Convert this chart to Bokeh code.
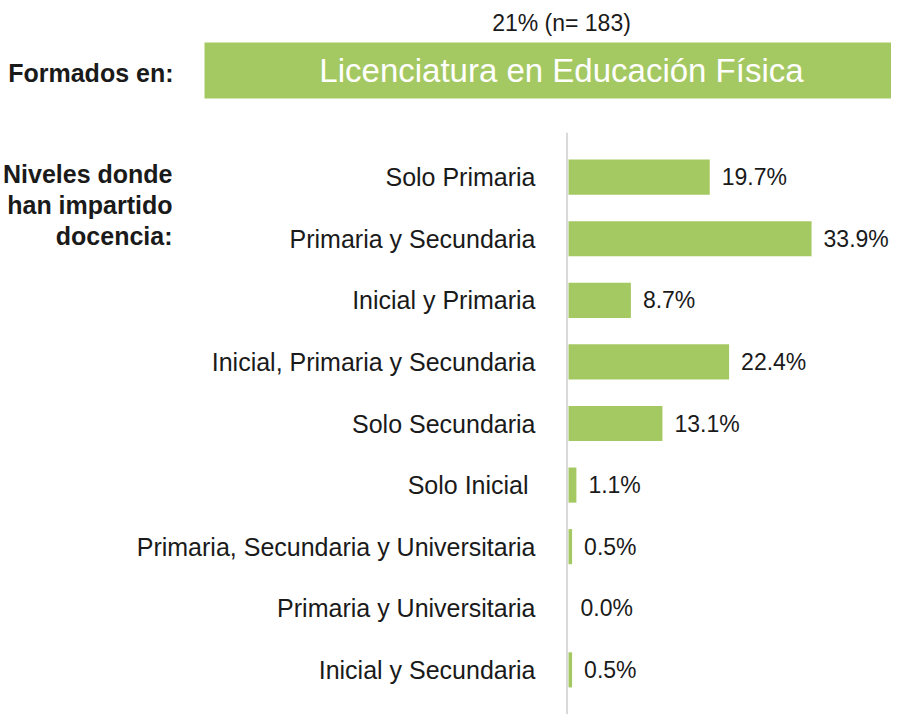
from bokeh.plotting import figure
from bokeh.models import ColumnDataSource, Range1d, FactorRange, Span
from bokeh.layouts import column
from bokeh.embed import file_html
from bokeh.resources import INLINE
from bokeh.core.properties import value

# ---- data ----
categories = [
    "Solo Primaria",
    "Primaria y Secundaria",
    "Inicial y Primaria",
    "Inicial, Primaria y Secundaria",
    "Solo Secundaria",
    "Solo Inicial ",
    "Primaria, Secundaria y Universitaria",
    "Primaria y Universitaria",
    "Inicial y Secundaria",
]
percentages = [19.7, 33.9, 8.7, 22.4, 13.1, 1.1, 0.5, 0.0, 0.5]
value_labels = ["19.7%", "33.9%", "8.7%", "22.4%", "13.1%", "1.1%", "0.5%", "0.0%", "0.5%"]

group_name = "Licenciatura en Educación Física"
group_share = "21% (n= 183)"
formed_label = "Formados en:"
levels_label = ["Niveles donde", "han impartido", "docencia:"]

# ---- style ----
GREEN = "#A5C962"
FONT = value("Liberation Sans")
TEXT = "#1a1a1a"
W = 891
HEAD_H = 132
MAIN_H = 582

# ---- header figure (pixel-like layout coordinates) ----
hdr = figure(width=W, height=HEAD_H, x_range=Range1d(0, W), y_range=Range1d(HEAD_H, 0),
             output_backend="svg", toolbar_location=None,
             x_axis_location=None, y_axis_location=None, min_border=0)
hdr.grid.visible = False
hdr.outline_line_color = None
hdr.quad(left=[204], right=[W], top=[42], bottom=[98], fill_color=GREEN, line_color=None)
hdr.text(x=[561], y=[22], text=[group_share], text_font=FONT, text_font_size="23px",
         text_color=TEXT, text_align="center", text_baseline="middle")
hdr.text(x=[561], y=[70], text=[group_name], text_font=FONT, text_font_size="33px",
         text_color="white", text_align="center", text_baseline="middle")
hdr.text(x=[173], y=[72], text=[formed_label], text_font=FONT, text_font_size="25px",
         text_font_style="bold", text_color=TEXT, text_align="right", text_baseline="middle")

# ---- main bar figure ----
px_per_unit = 7.17
zero_px = 568
x_start = -zero_px / px_per_unit
x_end = (W - zero_px) / px_per_unit

p = figure(width=W, height=MAIN_H,
           x_range=Range1d(x_start, x_end),
           y_range=FactorRange(factors=list(reversed(categories)), range_padding=0.05),
           output_backend="svg", toolbar_location=None,
           x_axis_location=None, y_axis_location=None, min_border=0)
p.grid.visible = False
p.outline_line_color = None

src = ColumnDataSource(dict(cat=categories, val=percentages, lab=value_labels))

p.hbar(y="cat", left=0, right="val", height=0.57, source=src,
       fill_color=GREEN, line_color=None)

p.add_layout(Span(location=-0.2, dimension="height", line_color="#D9D9D9", line_width=2))

# category labels to the left of the baseline
p.text(x=0, y="cat", text="cat", source=src, x_offset=-33,
       text_font=FONT, text_font_size="25px", text_color=TEXT,
       text_align="right", text_baseline="middle")

# value labels to the right of the bars
p.text(x="val", y="cat", text="lab", source=src, x_offset=12,
       text_font=FONT, text_font_size="23px", text_color=TEXT,
       text_align="left", text_baseline="middle")

# left-side bold caption
lvl_src = ColumnDataSource(dict(t=levels_label, y=[categories[0]] * 3, off=[-3, 28, 59]))
p.text(x=0, y="y", text="t", source=lvl_src, x_offset=-396, y_offset="off",
       text_font=FONT, text_font_size="25px", text_font_style="bold", text_color=TEXT,
       text_align="right", text_baseline="middle")

layout = column(hdr, p, spacing=0)
open("out.html", "w").write(file_html(layout, INLINE))
